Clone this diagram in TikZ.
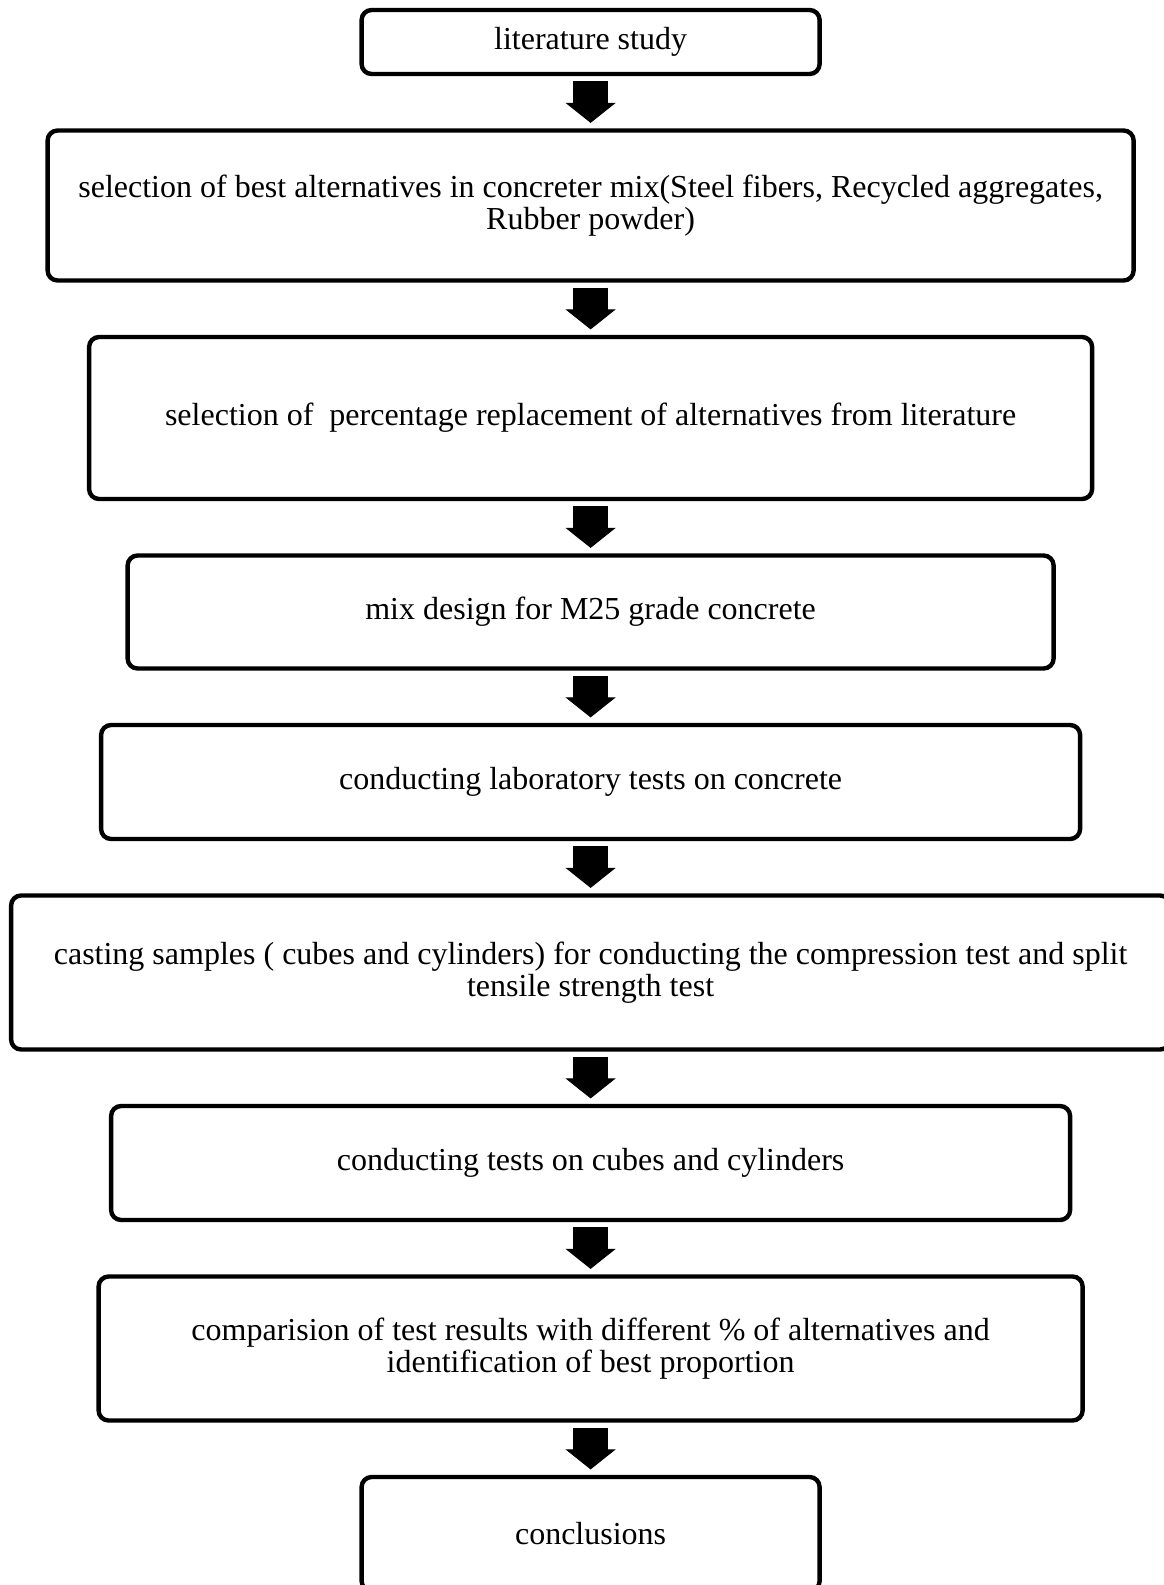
\documentclass[tikz,border=0pt]{standalone}
\usepackage{fontspec}
\setmainfont{Liberation Serif}
\usetikzlibrary{positioning,arrows.meta}
\tikzstyle{stage} = [draw, line width=2.2pt, rounded corners=5pt, align=center,
    inner sep=0pt, font=\fontsize{16}{16.2}\selectfont]
\tikzstyle{flow} = [line width=17.5pt,
    -{Triangle[width=25pt,length=10pt,line width=0.5pt]},
    shorten <=2.5pt, shorten >=2.7pt]

\begin{document}
\begin{tikzpicture}[node distance=26.05pt]
	  \useasboundingbox (0,0) rectangle (581.5pt,-792.5pt);
	  \node [stage, minimum width=229pt, minimum height=32pt] (lit) at (295.3pt,-21pt) {literature study};
	  \node [stage, minimum width=543pt, minimum height=75pt, below=of lit] (best) {selection of best alternatives in concreter mix(Steel fibers, Recycled aggregates,\\ Rubber powder)};
	  \node [stage, minimum width=501.5pt, minimum height=81pt, below=of best] (perc) {selection of~ percentage replacement of alternatives from literature};
	  \node [stage, minimum width=463pt, minimum height=56.5pt, below=of perc] (mix) {mix design for M25 grade concrete};
	  \node [stage, minimum width=489.5pt, minimum height=57pt, below=of mix] (lab) {conducting laboratory tests on concrete};
	  \node [stage, minimum width=579.5pt, minimum height=77pt, below=of lab] (cast) {casting samples ( cubes and cylinders) for conducting the compression test and split\\ tensile strength test};
	  \node [stage, minimum width=479.5pt, minimum height=57pt, below=of cast] (tests) {conducting tests on cubes and cylinders};
	  \node [stage, minimum width=492pt, minimum height=72pt, below=of tests] (comp) {comparision of test results with different \% of alternatives and\\ identification of best proportion};
	  \node [stage, minimum width=229pt, minimum height=57pt, below=of comp] (concl) {conclusions};
	  % block arrows
	  \draw [flow] (lit) -- (best);
	  \draw [flow] (best) -- (perc);
	  \draw [flow] (perc) -- (mix);
	  \draw [flow] (mix) -- (lab);
	  \draw [flow] (lab) -- (cast);
	  \draw [flow] (cast) -- (tests);
	  \draw [flow] (tests) -- (comp);
	  \draw [flow] (comp) -- (concl);
	\end{tikzpicture}
\end{document}
